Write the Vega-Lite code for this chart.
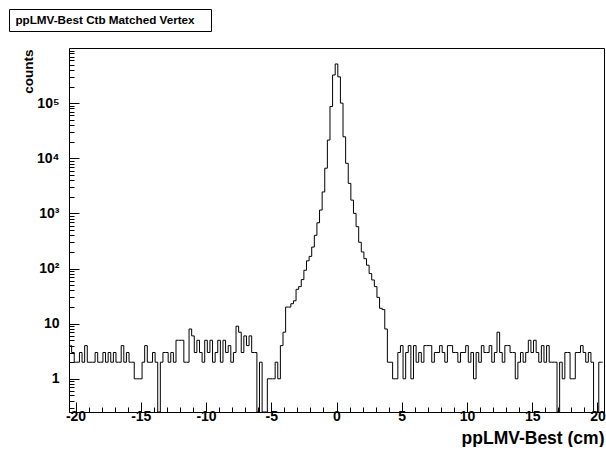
{
  "$schema": "https://vega.github.io/schema/vega-lite/v6.json",
  "padding": {"left": 7, "top": 8, "right": 0, "bottom": 0},
  "spacing": 14,
  "config": {
    "font": "Liberation Sans",
    "view": {"stroke": "black", "strokeWidth": 1},
    "axis": {"grid": false, "tickColor": "black", "domainColor": "black", "labelColor": "black", "titleColor": "black", "tickWidth": 1, "domainWidth": 1}
  },
  "datasets": {
    "h": [
      {"c":-20.4,"n":4},{"c":-20.2,"n":3},{"c":-20,"n":2},{"c":-19.8,"n":2},{"c":-19.6,"n":3},{"c":-19.4,"n":2},{"c":-19.2,"n":4},{"c":-19,"n":2},{"c":-18.8,"n":2},{"c":-18.6,"n":2},
      {"c":-18.4,"n":3},{"c":-18.2,"n":2},{"c":-18,"n":2},{"c":-17.8,"n":3},{"c":-17.6,"n":2},{"c":-17.4,"n":3},{"c":-17.2,"n":2},{"c":-17,"n":3},{"c":-16.8,"n":2},{"c":-16.6,"n":2},
      {"c":-16.4,"n":4},{"c":-16.2,"n":2},{"c":-16,"n":3},{"c":-15.8,"n":2},{"c":-15.6,"n":2},{"c":-15.4,"n":1},{"c":-15.2,"n":1},{"c":-15,"n":1},{"c":-14.8,"n":2},{"c":-14.6,"n":4},
      {"c":-14.4,"n":2},{"c":-14.2,"n":2},{"c":-14,"n":3},{"c":-13.8,"n":2},{"c":-13.6,"n":0},{"c":-13.4,"n":2},{"c":-13.2,"n":3},{"c":-13,"n":3},{"c":-12.8,"n":2},{"c":-12.6,"n":3},
      {"c":-12.4,"n":2},{"c":-12.2,"n":5},{"c":-12,"n":5},{"c":-11.8,"n":5},{"c":-11.6,"n":2},{"c":-11.4,"n":2},{"c":-11.2,"n":8},{"c":-11,"n":6},{"c":-10.8,"n":3},{"c":-10.6,"n":5},
      {"c":-10.4,"n":3},{"c":-10.2,"n":2},{"c":-10,"n":5},{"c":-9.8,"n":3},{"c":-9.6,"n":5},{"c":-9.4,"n":2},{"c":-9.2,"n":3},{"c":-9,"n":5},{"c":-8.8,"n":2},{"c":-8.6,"n":5},
      {"c":-8.4,"n":3},{"c":-8.2,"n":4},{"c":-8,"n":2},{"c":-7.8,"n":3},{"c":-7.6,"n":9},{"c":-7.4,"n":7},{"c":-7.2,"n":3},{"c":-7,"n":6},{"c":-6.8,"n":4},{"c":-6.6,"n":6},
      {"c":-6.4,"n":3},{"c":-6.2,"n":3},{"c":-6,"n":0},{"c":-5.8,"n":2},{"c":-5.6,"n":0},{"c":-5.4,"n":0},{"c":-5.2,"n":1},{"c":-5,"n":1},{"c":-4.8,"n":1},{"c":-4.6,"n":2},
      {"c":-4.4,"n":1},{"c":-4.2,"n":4},{"c":-4,"n":7},
      {"c":-3.8,"n":20},{"c":-3.6,"n":20},{"c":-3.4,"n":23},{"c":-3.2,"n":26},{"c":-3,"n":42},{"c":-2.8,"n":47},{"c":-2.6,"n":63},{"c":-2.4,"n":93},{"c":-2.2,"n":138},{"c":-2,"n":166},{"c":-1.8,"n":245},{"c":-1.6,"n":400},{"c":-1.4,"n":676},{"c":-1.2,"n":1150},{"c":-1,"n":2450},{"c":-0.8,"n":6600},{"c":-0.6,"n":21400},{"c":-0.4,"n":87000},{"c":-0.2,"n":324000},
      {"c":0,"n":513000},
      {"c":0.2,"n":300000},{"c":0.4,"n":100000},{"c":0.6,"n":24500},{"c":0.8,"n":8100},{"c":1,"n":3500},{"c":1.2,"n":1740},{"c":1.4,"n":1000},{"c":1.6,"n":575},{"c":1.8,"n":300},{"c":2,"n":200},{"c":2.2,"n":151},{"c":2.4,"n":115},{"c":2.6,"n":81},{"c":2.8,"n":62},{"c":3,"n":47},{"c":3.2,"n":30},{"c":3.4,"n":19},{"c":3.6,"n":18},{"c":3.8,"n":8},
      {"c":4,"n":2},{"c":4.2,"n":2},{"c":4.4,"n":1},{"c":4.6,"n":1},{"c":4.8,"n":3},{"c":5,"n":4},{"c":5.2,"n":1},{"c":5.4,"n":3},{"c":5.6,"n":4},{"c":5.8,"n":1},
      {"c":6,"n":4},{"c":6.2,"n":2},{"c":6.4,"n":3},{"c":6.6,"n":2},{"c":6.8,"n":4},{"c":7,"n":4},{"c":7.2,"n":4},{"c":7.4,"n":2},{"c":7.6,"n":3},{"c":7.8,"n":3},
      {"c":8,"n":4},{"c":8.2,"n":3},{"c":8.4,"n":2},{"c":8.6,"n":4},{"c":8.8,"n":4},{"c":9,"n":3},{"c":9.2,"n":3},{"c":9.4,"n":2},{"c":9.6,"n":3},{"c":9.8,"n":3},
      {"c":10,"n":4},{"c":10.2,"n":2},{"c":10.4,"n":3},{"c":10.6,"n":1},{"c":10.8,"n":3},{"c":11,"n":2},{"c":11.2,"n":4},{"c":11.4,"n":3},{"c":11.6,"n":3},{"c":11.8,"n":4},
      {"c":12,"n":2},{"c":12.2,"n":3},{"c":12.4,"n":7},{"c":12.6,"n":3},{"c":12.8,"n":2},{"c":13,"n":4},{"c":13.2,"n":4},{"c":13.4,"n":3},{"c":13.6,"n":3},{"c":13.8,"n":1},
      {"c":14,"n":2},{"c":14.2,"n":3},{"c":14.4,"n":2},{"c":14.6,"n":3},{"c":14.8,"n":5},{"c":15,"n":3},{"c":15.2,"n":5},{"c":15.4,"n":3},{"c":15.6,"n":2},{"c":15.8,"n":4},
      {"c":16,"n":2},{"c":16.2,"n":4},{"c":16.4,"n":2},{"c":16.6,"n":2},{"c":16.8,"n":2},{"c":17,"n":0},{"c":17.2,"n":2},{"c":17.4,"n":1},{"c":17.6,"n":3},{"c":17.8,"n":3},
      {"c":18,"n":1},{"c":18.2,"n":1},{"c":18.4,"n":3},{"c":18.6,"n":3},{"c":18.8,"n":4},{"c":19,"n":3},{"c":19.2,"n":2},{"c":19.4,"n":3},{"c":19.6,"n":2},{"c":19.8,"n":0},
      {"c":20,"n":0},{"c":20.2,"n":2},{"c":20.4,"n":2}
    ]
  },
  "vconcat": [
    {
      "width": 202,
      "height": 22,
      "view": {"stroke": "black", "strokeWidth": 1, "fill": "white"},
      "data": {"values": [{"t": "ppLMV-Best Ctb Matched Vertex"}]},
      "mark": {"type": "text", "font": "Liberation Sans", "fontWeight": "bold", "fontSize": 11.7, "color": "black", "dx": -5},
      "encoding": {"text": {"field": "t", "type": "nominal"}}
    },
    {
      "spacing": -6,
      "hconcat": [
        {
          "width": 2,
          "height": 2,
          "view": {"stroke": null},
          "data": {"values": [{}]},
          "mark": {"type": "point", "opacity": 0}
        },
        {
          "width": 535,
          "height": 364,
          "data": {"name": "h"},
          "resolve": {"axis": {"x": "independent", "y": "independent"}},
          "layer": [
            {
              "mark": {"type": "line", "interpolate": "step", "color": "black", "strokeWidth": 1, "clip": true},
              "encoding": {
                "x": {"field": "c", "type": "quantitative",
                  "scale": {"domain": [-20.5, 20.5], "nice": false, "zero": false},
                  "axis": {"orient": "bottom", "values": [-20,-15,-10,-5,0,5,10,15,20], "tickSize": -10, "labelPadding": 7,
                    "labelExpr": "'' + datum.value", "labelFontSize": 14, "labelFontWeight": "bold", "labelFlush": false, "labelOverlap": false,
                    "title": "ppLMV-Best (cm)", "titleAnchor": "end", "titleAlign": "right", "titleFontSize": 17.5, "titleFontWeight": "bold", "titlePadding": 6}},
                "y": {"field": "n", "type": "quantitative",
                  "scale": {"type": "log", "domain": [0.25, 1000000], "nice": false, "clamp": true},
                  "axis": {"orient": "left", "values": [1,10,100,1000,10000,100000], "tickSize": -10, "labelPadding": 20,
                    "labelExpr": "datum.value < 5 ? '1' : datum.value < 50 ? '10' : datum.value < 500 ? '10²' : datum.value < 5000 ? '10³' : datum.value < 50000 ? '10⁴' : '10⁵'",
                    "labelFontSize": 14, "labelFontWeight": "bold", "labelFlush": false, "labelOverlap": false,
                    "title": "counts", "titleFontSize": 13.5, "titleFontWeight": "bold", "titleAngle": 270, "titleAlign": "right", "titleBaseline": "alphabetic", "titleX": -37, "titleY": 1}}
              }
            },
            {
              "mark": {"type": "line", "interpolate": "step", "strokeOpacity": 0, "clip": true},
              "encoding": {
                "x": {"field": "c", "type": "quantitative",
                  "axis": {"orient": "bottom", "values": [-20,-19,-18,-17,-16,-15,-14,-13,-12,-11,-10,-9,-8,-7,-6,-5,-4,-3,-2,-1,0,1,2,3,4,5,6,7,8,9,10,11,12,13,14,15,16,17,18,19,20],
                    "tickSize": -5, "labels": false, "domain": false, "title": null}},
                "y": {"field": "n", "type": "quantitative",
                  "axis": {"orient": "left", "values": [0.3,0.4,0.5,0.6,0.7,0.8,0.9,2,3,4,5,6,7,8,9,20,30,40,50,60,70,80,90,200,300,400,500,600,700,800,900,2000,3000,4000,5000,6000,7000,8000,9000,20000,30000,40000,50000,60000,70000,80000,90000,200000,300000,400000,500000,600000,700000,800000,900000],
                    "tickSize": -5, "labels": false, "domain": false,
                    "title": ".", "titleOpacity": 0, "titleFontSize": 1, "titleAngle": 0, "titleAlign": "left", "titleX": -61, "titleY": 0}}
              }
            }
          ]
        }
      ]
    }
  ]
}
